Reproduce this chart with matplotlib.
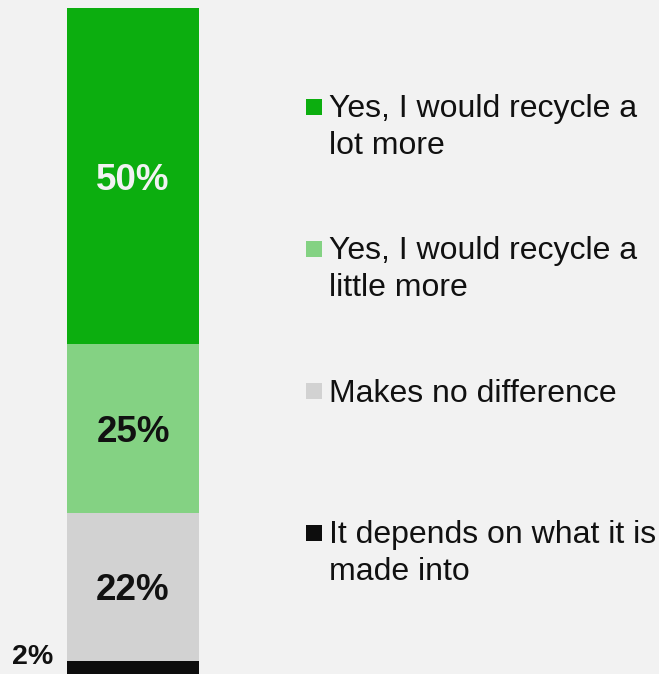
import matplotlib.pyplot as plt

plt.rcParams['font.family'] = ['Liberation Sans', 'DejaVu Sans']

# survey answers, stacked from the bottom up
categories = ['It depends on what it is\nmade into', 'Makes no difference',
              'Yes, I would recycle a\nlittle more', 'Yes, I would recycle a\nlot more']
values = [2, 22, 25, 50]
colors = ['#0d0d0d', '#d2d2d2', '#84d283', '#0cae0f']
label_colors = ['#111111', '#111111', '#111111', '#f2f2f2']

bg = '#f2f2f2'
W, H = 659, 674
fig = plt.figure(figsize=(W / 100, H / 100), dpi=100, facecolor=bg)

# axes only as wide as the bar; top of the stack sits 8px below the edge
ax = fig.add_axes([67 / W, 0, 132 / W, (H - 8) / H])
ax.set_facecolor(bg)
ax.set_xlim(-0.5, 0.5)
ax.set_ylim(0, sum(values))
ax.axis('off')

bottom = 0
for val, col, lc in zip(values, colors, label_colors):
    ax.bar(0, val, width=1.0, bottom=bottom, color=col, linewidth=0)
    if val >= 10:
        ax.annotate(f'{val}%', xy=(0, bottom + val / 2), xytext=(0, -4),
                    textcoords='offset pixels', ha='center', va='center',
                    fontsize=26.5, fontweight='bold', color=lc)
    else:
        # small slice: label sits to the left of the bar
        ax.annotate(f'{val}%', xy=(-0.5, bottom), xytext=(-14, 10),
                    textcoords='offset pixels', ha='right', va='baseline',
                    fontsize=20.5, fontweight='bold', color='#111111',
                    annotation_clip=False)
    bottom += val

# legend, top entry first; one text per line to keep baselines exact
legend_base = 117.5
legend_step = 142
line_step = 36.5
sq = 15.5
for i, (cat, col) in enumerate(zip(categories[::-1], colors[::-1])):
    base_px = legend_base + i * legend_step
    for j, line in enumerate(cat.split('\n')):
        fig.text(329 / W, 1 - (base_px + j * line_step) / H, line,
                 ha='left', va='baseline', fontsize=23, color='#111111')
    fig.add_artist(plt.Rectangle((306 / W, 1 - (base_px - 10.7 + sq / 2) / H),
                                 sq / W, sq / H, facecolor=col, linewidth=0,
                                 transform=fig.transFigure))

fig.savefig('out.png', dpi=100, facecolor=bg)
